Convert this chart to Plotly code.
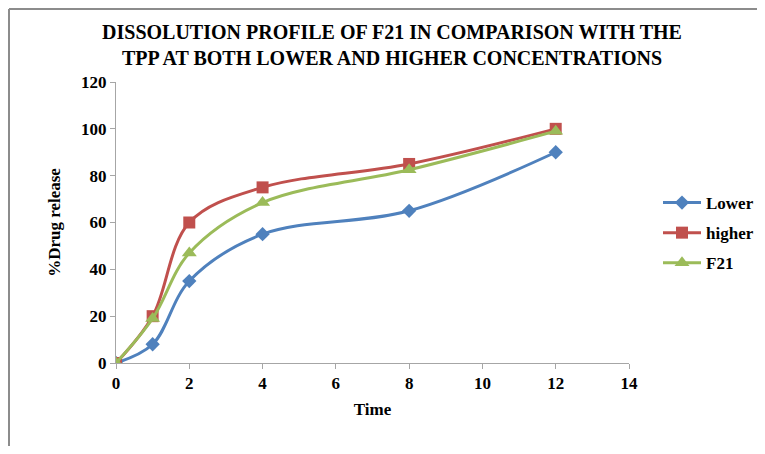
import plotly.graph_objects as go

time = [0, 1, 2, 4, 8, 12]
lower = [0, 8, 35, 55, 65, 90]
higher = [0, 20, 60, 75, 85, 100]
f21 = [0, 19, 47, 68.5, 82.5, 99]

x_ticks = [0, 2, 4, 6, 8, 10, 12, 14]
y_ticks = [0, 20, 40, 60, 80, 100, 120]

font_family = "Liberation Serif"

# page body has an 8px margin; lay out in page coordinates minus 8
W, H = 749, 438
L, T = 108, 74
PW, PH = 513, 281

fig = go.Figure()
series = [
    ("Lower", lower, "#4F81BD", "diamond", 11),
    ("higher", higher, "#C0504D", "square", 12),
    ("F21", f21, "#9BBB59", "triangle-up", 13),
]
for name, vals, color, sym, size in series:
    fig.add_trace(go.Scatter(
        x=time, y=vals, name=name, mode="lines+markers", legendgroup=name,
        line=dict(color=color, width=3, shape="spline", smoothing=1.0),
        marker=dict(symbol=sym, size=size, color=color),
    ))

axis_common = dict(
    showgrid=False, zeroline=False, showline=True, linecolor="#A6A6A6", linewidth=1,
    ticks="outside", tickcolor="#A6A6A6", ticklen=5,
    tickfont=dict(family=font_family, size=17, color="black", weight="bold"),
)

def px_x(x):
    return (x - 8 - L) / PW

def px_y(y):
    return (T + PH - (y - 8)) / PH

fig.update_layout(
    width=W, height=H,
    paper_bgcolor="white", plot_bgcolor="white",
    margin=dict(l=L, r=W - L - PW, t=T, b=H - T - PH),
    title=dict(
        text="<b>DISSOLUTION PROFILE OF F21 IN COMPARISON WITH THE<br>TPP AT BOTH LOWER AND HIGHER CONCENTRATIONS</b>",
        x=(392 - 8) / W, xref="container", xanchor="center",
        y=1 - (39 - 8) / H, yref="container", yanchor="middle",
        font=dict(family=font_family, size=20, color="black"),
    ),
    xaxis=dict(range=[0, 14], tickvals=x_ticks,
               title=dict(text="<b>Time</b>", font=dict(family=font_family, size=17, color="black"), standoff=10),
               **axis_common),
    yaxis=dict(range=[0, 120], tickvals=y_ticks,
               title=dict(text="<b>%Drug release</b>", font=dict(family=font_family, size=17, color="black"), standoff=16),
               **axis_common),
    legend=dict(xref="container", yref="container",
                x=(658 - 8) / W, y=1 - (185 - 8) / H, xanchor="left", yanchor="top",
                font=dict(family=font_family, size=17, color="black", weight="bold"),
                tracegroupgap=5, itemwidth=38, bgcolor="rgba(0,0,0,0)"),
    shapes=[
        dict(type="line", xref="paper", yref="paper",
             x0=px_x(9), x1=px_x(770), y0=px_y(9), y1=px_y(9),
             line=dict(color="#8C8C8C", width=2)),
        dict(type="line", xref="paper", yref="paper",
             x0=px_x(9), x1=px_x(9), y0=px_y(9), y1=px_y(460),
             line=dict(color="#8C8C8C", width=2)),
    ],
)

fig.write_html("out.html")
